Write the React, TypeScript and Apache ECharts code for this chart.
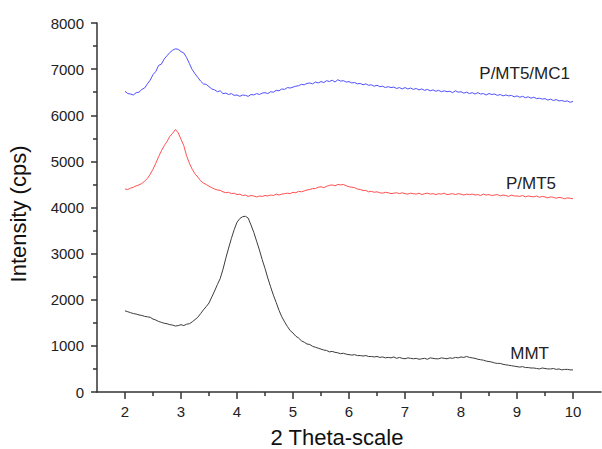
import React, { useEffect, useRef } from "react";
import * as echarts from "echarts";

const twoTheta = [
  2.0, 2.05, 2.1, 2.15, 2.2, 2.25, 2.3, 2.35, 2.4, 2.45, 2.5, 2.55, 2.6, 2.65, 2.7, 2.75, 2.8, 2.85, 2.9, 2.95,
  3.0, 3.05, 3.1, 3.15, 3.2, 3.25, 3.3, 3.35, 3.4, 3.45, 3.5, 3.55, 3.6, 3.65, 3.7, 3.75, 3.8, 3.85, 3.9, 3.95,
  4.0, 4.05, 4.1, 4.15, 4.2, 4.25, 4.3, 4.35, 4.4, 4.45, 4.5, 4.55, 4.6, 4.65, 4.7, 4.75, 4.8, 4.85, 4.9, 4.95,
  5.0, 5.05, 5.1, 5.15, 5.2, 5.25, 5.3, 5.35, 5.4, 5.45, 5.5, 5.55, 5.6, 5.65, 5.7, 5.75, 5.8, 5.85, 5.9, 5.95,
  6.0, 6.05, 6.1, 6.15, 6.2, 6.25, 6.3, 6.35, 6.4, 6.45, 6.5, 6.55, 6.6, 6.65, 6.7, 6.75, 6.8, 6.85, 6.9, 6.95,
  7.0, 7.05, 7.1, 7.15, 7.2, 7.25, 7.3, 7.35, 7.4, 7.45, 7.5, 7.55, 7.6, 7.65, 7.7, 7.75, 7.8, 7.85, 7.9, 7.95,
  8.0, 8.05, 8.1, 8.15, 8.2, 8.25, 8.3, 8.35, 8.4, 8.45, 8.5, 8.55, 8.6, 8.65, 8.7, 8.75, 8.8, 8.85, 8.9, 8.95,
  9.0, 9.05, 9.1, 9.15, 9.2, 9.25, 9.3, 9.35, 9.4, 9.45, 9.5, 9.55, 9.6, 9.65, 9.7, 9.75, 9.8, 9.85, 9.9, 9.95,
  10.0,
];

const pmt5mc1 = [
  6520, 6470, 6460, 6440, 6490, 6500, 6560, 6590, 6680, 6760, 6880, 6950, 7080, 7110, 7220, 7290, 7360, 7410, 7440, 7430,
  7380, 7350, 7250, 7120, 6990, 6900, 6820, 6740, 6680, 6670, 6620, 6570, 6550, 6510, 6530, 6470, 6480, 6450, 6470, 6430,
  6440, 6410, 6440, 6430, 6410, 6450, 6440, 6470, 6450, 6480, 6490, 6470, 6510, 6500, 6540, 6530, 6570, 6560, 6600, 6590,
  6610, 6630, 6640, 6670, 6660, 6690, 6700, 6680, 6720, 6700, 6730, 6710, 6750, 6730, 6760, 6720, 6770, 6740, 6750, 6720,
  6730, 6700, 6710, 6680, 6690, 6660, 6680, 6650, 6660, 6630, 6650, 6620, 6630, 6600, 6620, 6600, 6610, 6580, 6600, 6570,
  6600, 6570, 6590, 6560, 6580, 6550, 6570, 6540, 6560, 6530, 6550, 6520, 6540, 6510, 6530, 6510, 6520, 6490, 6530, 6500,
  6510, 6480, 6500, 6470, 6490, 6460, 6490, 6460, 6470, 6440, 6470, 6450, 6460, 6430, 6450, 6420, 6440, 6420, 6430, 6400,
  6420, 6390, 6410, 6380, 6400, 6370, 6390, 6360, 6370, 6350, 6360, 6330, 6350, 6320, 6340, 6310, 6320, 6300, 6310, 6280,
  6300,
];

const pmt5 = [
  4400, 4390, 4420, 4440, 4470, 4490, 4520, 4570, 4630, 4720, 4830, 4960, 5100, 5230, 5340, 5430, 5540, 5610, 5690, 5620,
  5480, 5340, 5120, 4960, 4830, 4730, 4660, 4580, 4530, 4500, 4460, 4430, 4400, 4380, 4370, 4340, 4320, 4330, 4300, 4310,
  4280, 4290, 4260, 4270, 4240, 4260, 4250, 4230, 4250, 4240, 4260, 4250, 4270, 4260, 4290, 4270, 4290, 4300, 4310, 4300,
  4330, 4320, 4350, 4340, 4360, 4380, 4390, 4410, 4410, 4440, 4450, 4430, 4460, 4480, 4490, 4470, 4500, 4490, 4500, 4470,
  4450, 4440, 4430, 4400, 4390, 4370, 4370, 4340, 4350, 4330, 4340, 4320, 4310, 4330, 4320, 4300, 4310, 4320, 4300, 4320,
  4300, 4290, 4310, 4300, 4290, 4310, 4280, 4300, 4310, 4290, 4300, 4280, 4300, 4290, 4310, 4280, 4290, 4300, 4280, 4300,
  4290, 4270, 4290, 4280, 4290, 4270, 4280, 4260, 4290, 4270, 4280, 4260, 4270, 4280, 4250, 4270, 4260, 4240, 4270, 4250,
  4250, 4240, 4260, 4230, 4250, 4240, 4230, 4250, 4220, 4240, 4230, 4210, 4230, 4220, 4200, 4220, 4210, 4190, 4210, 4200,
  4190,
];

const mmt = [
  1760, 1740, 1720, 1700, 1690, 1670, 1660, 1640, 1630, 1620, 1580, 1560, 1530, 1510, 1490, 1480, 1460, 1450, 1430, 1440,
  1460, 1440, 1470, 1480, 1520, 1570, 1620, 1700, 1780, 1850, 1930, 2060, 2190, 2330, 2460, 2660, 2900, 3120, 3330, 3520,
  3680, 3760, 3800, 3810, 3770, 3620, 3460, 3270, 3080, 2870, 2680, 2470, 2280, 2100, 1940, 1770, 1630, 1520, 1420, 1330,
  1280, 1210, 1170, 1110, 1080, 1040, 1030, 990, 970, 950, 930, 910, 900, 870, 880, 860, 850, 830, 840, 820,
  810, 800, 810, 790, 790, 780, 790, 770, 770, 760, 770, 750, 760, 740, 750, 740, 760, 730, 750, 730,
  720, 740, 730, 720, 730, 710, 720, 730, 710, 740, 730, 720, 720, 740, 730, 720, 740, 730, 750, 740,
  760, 750, 770, 750, 740, 730, 710, 700, 690, 670, 660, 650, 630, 620, 620, 600, 590, 580, 570, 560,
  550, 540, 550, 530, 530, 520, 520, 510, 500, 520, 510, 500, 500, 510, 490, 500, 480, 490, 490, 480,
  480,
];

const xMajorTicks = [2, 3, 4, 5, 6, 7, 8, 9, 10];
const xMinorTicks = [2.5, 3.5, 4.5, 5.5, 6.5, 7.5, 8.5, 9.5];

const FONT = "'Liberation Sans', Arial, Helvetica, sans-serif";

export default function App() {
  const ref = useRef<HTMLDivElement>(null);
  useEffect(() => {
    if (!ref.current) return;
    const chart = echarts.init(ref.current, null, { renderer: "svg" });
    const pairs = (ys: number[]) => twoTheta.map((x, i) => [x, ys[i]]);
    const axisColor = "#333";
    chart.setOption({
      animation: false,
      backgroundColor: "#ffffff",
      grid: { left: 97, right: 1, top: 23, bottom: 57, containLabel: false },
      xAxis: [
        {
          type: "value",
          min: 1.5,
          max: 10.5,
          axisLine: { show: true, lineStyle: { color: axisColor, width: 1.5 } },
          axisTick: { show: true, length: 7, customValues: xMajorTicks, lineStyle: { color: axisColor, width: 1.5 } },
          axisLabel: { show: true, customValues: xMajorTicks, margin: 12, fontSize: 15, color: "#222", fontFamily: FONT },
          splitLine: { show: false },
        },
        {
          type: "value",
          min: 1.5,
          max: 10.5,
          position: "bottom",
          axisLine: { show: false },
          axisTick: { show: true, length: 4, customValues: xMinorTicks, lineStyle: { color: axisColor, width: 1.5 } },
          axisLabel: { show: false },
          splitLine: { show: false },
        },
      ],
      yAxis: {
        type: "value",
        min: 0,
        max: 8000,
        interval: 1000,
        axisLine: { show: true, lineStyle: { color: axisColor, width: 1.5 } },
        axisTick: { show: true, length: 6, lineStyle: { color: axisColor, width: 1.5 } },
        minorTick: { show: true, splitNumber: 2, length: 4, lineStyle: { color: axisColor, width: 1.5 } },
        axisLabel: {
          margin: 13,
          fontSize: 15,
          color: "#222",
          fontFamily: FONT,
          formatter: (v: number) => String(v),
        },
        splitLine: { show: false },
      },
      series: [
        {
          name: "P/MT5/MC1",
          type: "line",
          data: pairs(pmt5mc1),
          showSymbol: false,
          lineStyle: { color: "rgb(80,80,255)", width: 1 },
        },
        {
          name: "P/MT5",
          type: "line",
          data: pairs(pmt5),
          showSymbol: false,
          lineStyle: { color: "rgb(255,80,80)", width: 1 },
        },
        {
          name: "MMT",
          type: "line",
          data: pairs(mmt),
          showSymbol: false,
          lineStyle: { color: "rgb(60,60,60)", width: 1 },
        },
      ],
      graphic: [
        {
          type: "text",
          x: 570,
          y: 73,
          style: { text: "P/MT5/MC1", font: `17px ${FONT}`, fill: "#222", align: "right", verticalAlign: "middle" },
        },
        {
          type: "text",
          x: 556,
          y: 183,
          style: { text: "P/MT5", font: `17px ${FONT}`, fill: "#222", align: "right", verticalAlign: "middle" },
        },
        {
          type: "text",
          x: 549,
          y: 353,
          style: { text: "MMT", font: `17px ${FONT}`, fill: "#222", align: "right", verticalAlign: "middle" },
        },
        {
          type: "text",
          x: 337,
          y: 437,
          style: { text: "2 Theta-scale", font: `22px ${FONT}`, fill: "#111", align: "center", verticalAlign: "middle" },
        },
        {
          type: "text",
          x: 18,
          y: 214,
          rotation: Math.PI / 2,
          style: { text: "Intensity (cps)", font: `22px ${FONT}`, fill: "#111", align: "center", verticalAlign: "middle" },
        },
      ],
    });
    return () => chart.dispose();
  }, []);
  return (
    <div
      ref={ref}
      style={{ position: "fixed", left: 0, top: 0, width: 602, height: 449, background: "#fff" }}
    />
  );
}
